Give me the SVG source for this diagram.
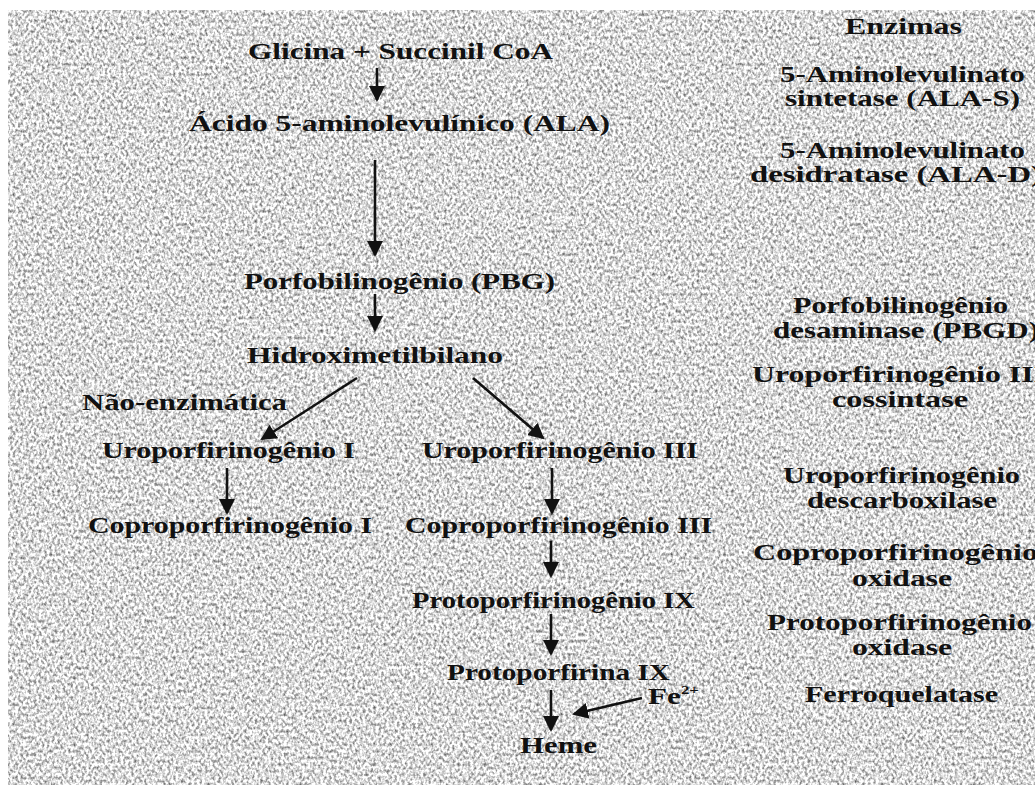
<svg xmlns="http://www.w3.org/2000/svg" width="1035" height="785" viewBox="0 0 1035 785">
<style>
text { font-family: "Liberation Serif", "Times New Roman", serif; font-weight: bold; font-size: 24px; fill: #111; }
.c { stroke: #111; stroke-width: 2.6; fill: none; marker-end: url(#ah); }
</style>
<defs>
<filter id="tex" x="0" y="0" width="100%" height="100%" color-interpolation-filters="sRGB">
<feTurbulence type="fractalNoise" baseFrequency="0.38 0.3" numOctaves="2" seed="7" result="n"/>
<feGaussianBlur in="n" stdDeviation="0.5" result="b"/>
<feColorMatrix in="b" type="matrix" values="1.25 0 0 0 0.23  1.25 0 0 0 0.23  1.25 0 0 0 0.23  0 0 0 0 1"/>
</filter>
<marker id="ah" markerUnits="userSpaceOnUse" viewBox="0 0 16 16" refX="14" refY="8" markerWidth="16" markerHeight="16" orient="auto">
<path d="M0,0 L16,8 L0,16 z" fill="#111"/>
</marker>
</defs>
<rect width="1035" height="785" fill="#fff"/>
<rect x="8" y="10" width="1027" height="775" fill="#ccc" filter="url(#tex)"/>

<g id="connectors">
<line class="c" x1="377" y1="68" x2="377" y2="100"/>
<line class="c" x1="375" y1="160" x2="375" y2="255"/>
<line class="c" x1="375" y1="294" x2="375" y2="330"/>
<line class="c" x1="357" y1="378" x2="262" y2="439"/>
<line class="c" x1="473" y1="378" x2="543" y2="438"/>
<line class="c" x1="227" y1="468" x2="227" y2="513"/>
<line class="c" x1="552" y1="468" x2="552" y2="513"/>
<line class="c" x1="551" y1="541" x2="551" y2="576"/>
<line class="c" x1="551" y1="614" x2="551" y2="654"/>
<line class="c" x1="551" y1="690" x2="551" y2="730"/>
<line class="c" x1="642" y1="698" x2="574" y2="714"/>
</g>

<g id="glicina"><text x="248" y="59" textLength="305" lengthAdjust="spacingAndGlyphs">Glicina + Succinil CoA</text></g>
<g id="ala"><text x="189" y="131" textLength="421" lengthAdjust="spacingAndGlyphs">Ácido 5-aminolevulínico (ALA)</text></g>
<g id="pbg"><text x="244" y="289" textLength="311" lengthAdjust="spacingAndGlyphs">Porfobilinogênio (PBG)</text></g>
<g id="hmb"><text x="247" y="363" textLength="256" lengthAdjust="spacingAndGlyphs">Hidroximetilbilano</text></g>
<g id="nao-enz"><text x="82" y="410" textLength="205" lengthAdjust="spacingAndGlyphs">Não-enzimática</text></g>
<g id="uro1"><text x="102" y="458" textLength="253" lengthAdjust="spacingAndGlyphs">Uroporfirinogênio I</text></g>
<g id="copro1"><text x="88" y="533" textLength="284" lengthAdjust="spacingAndGlyphs">Coproporfirinogênio I</text></g>
<g id="uro3"><text x="422" y="458" textLength="276" lengthAdjust="spacingAndGlyphs">Uroporfirinogênio III</text></g>
<g id="copro3"><text x="405" y="533" textLength="307" lengthAdjust="spacingAndGlyphs">Coproporfirinogênio III</text></g>
<g id="protogen"><text x="412" y="608" textLength="283" lengthAdjust="spacingAndGlyphs">Protoporfirinogênio IX</text></g>
<g id="proto"><text x="447" y="680" textLength="223" lengthAdjust="spacingAndGlyphs">Protoporfirina IX</text></g>
<g id="heme"><text x="520" y="753" textLength="77" lengthAdjust="spacingAndGlyphs">Heme</text></g>
<g id="fe"><text transform="translate(648,704) scale(1.3,1)">Fe<tspan font-size="13" dy="-10">2+</tspan></text></g>

<g id="enzimas">
<text x="845" y="34" textLength="117" lengthAdjust="spacingAndGlyphs">Enzimas</text>
<text x="780" y="82" textLength="245" lengthAdjust="spacingAndGlyphs">5-Aminolevulinato</text>
<text x="785" y="106" textLength="235" lengthAdjust="spacingAndGlyphs">sintetase (ALA-S)</text>
<text x="780" y="158" textLength="245" lengthAdjust="spacingAndGlyphs">5-Aminolevulinato</text>
<text x="750" y="182" textLength="292" lengthAdjust="spacingAndGlyphs">desidratase (ALA-D)</text>
<text x="793" y="313" textLength="215" lengthAdjust="spacingAndGlyphs">Porfobilinogênio</text>
<text x="773" y="338" textLength="266" lengthAdjust="spacingAndGlyphs">desaminase (PBGD)</text>
<text x="752" y="382" textLength="294" lengthAdjust="spacingAndGlyphs">Uroporfirinogênio III</text>
<text x="832" y="407" textLength="136" lengthAdjust="spacingAndGlyphs">cossintase</text>
<text x="783" y="483" textLength="237" lengthAdjust="spacingAndGlyphs">Uroporfirinogênio</text>
<text x="807" y="508" textLength="190" lengthAdjust="spacingAndGlyphs">descarboxilase</text>
<text x="753" y="560" textLength="285" lengthAdjust="spacingAndGlyphs">Coproporfirinogênio</text>
<text x="852" y="586" textLength="100" lengthAdjust="spacingAndGlyphs">oxidase</text>
<text x="767" y="630" textLength="265" lengthAdjust="spacingAndGlyphs">Protoporfirinogênio</text>
<text x="852" y="655" textLength="100" lengthAdjust="spacingAndGlyphs">oxidase</text>
<text x="805" y="702" textLength="193" lengthAdjust="spacingAndGlyphs">Ferroquelatase</text>
</g>
</svg>
